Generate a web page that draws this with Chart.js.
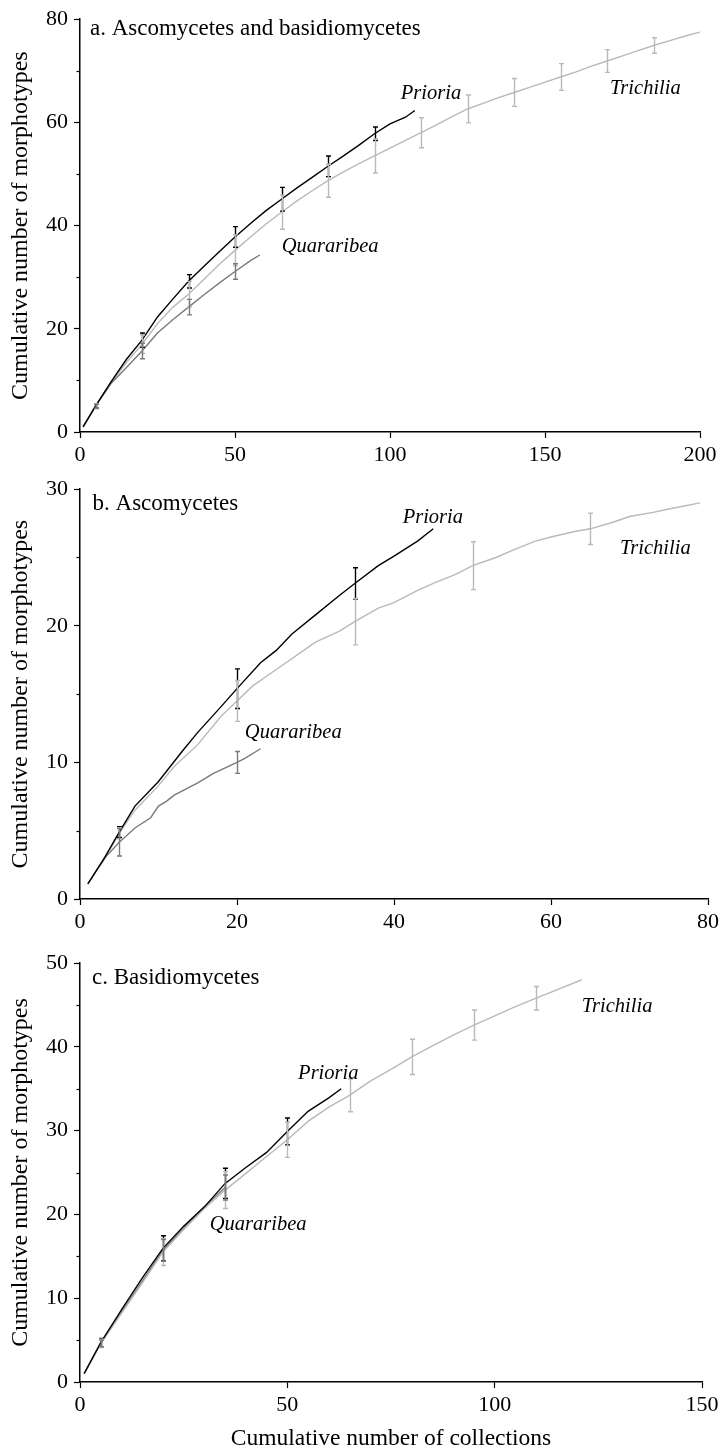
<!DOCTYPE html>
<html><head><meta charset="utf-8">
<script src="https://cdn.jsdelivr.net/npm/chart.js@4.4.0/dist/chart.umd.min.js"></script>
<style>
html,body{margin:0;padding:0;background:#fff;}
#wrap{position:relative;width:723px;height:1451px;overflow:hidden;}
.pane{position:absolute;left:0;}
</style></head><body>
<div id="wrap">
<div class="pane" style="top:0"><canvas id="ca" width="723" height="470"></canvas></div>
<div class="pane" style="top:470px"><canvas id="cb" width="723" height="470"></canvas></div>
<div class="pane" style="top:940px"><canvas id="cc" width="723" height="511"></canvas></div>
</div>
<script>
// ---------- DATA ----------
// Panel a: Ascomycetes and basidiomycetes
const aPrioriaX = [1,5,10,15,20,25,30,35,40,45,50,55,60,65,70,75,80,85,90,95,100,105,108];
const aPrioriaY = [1,5,9.7,14.1,17.8,22.3,25.8,29.2,32.1,35.0,37.8,40.4,42.9,45.1,47.3,49.4,51.5,53.5,55.6,57.8,59.7,61.0,62.3];
const aPrioriaErrX = [5,20,35,50,65,80,95];
const aPrioriaErrSD = [0.4,1.4,1.3,2.0,2.3,2.0,1.3];

const aTrichiliaX = [1,5,10,15,20,25,30,35,40,45,50,55,60,65,70,75,80,85,90,95,100,105,110,115,120,125,130,135,140,145,150,155,160,165,170,175,180,185,190,195,200];
const aTrichiliaY = [1,5,9.5,13.5,17.0,21.0,24.2,26.7,29.6,32.5,35.2,37.8,40.3,42.6,44.8,46.8,48.7,50.4,52.0,53.5,55.0,56.5,58.0,59.5,61.1,62.6,63.7,64.8,65.8,66.8,67.8,68.8,69.8,70.9,71.9,72.9,73.9,74.9,75.8,76.7,77.5];
const aTrichiliaErrX = [5,20,35,50,65,80,95,110,125,140,155,170,185];
const aTrichiliaErrSD = [0.5,1.8,2.5,3.0,3.3,3.2,3.3,2.9,2.7,2.7,2.6,2.2,1.5];

const aQuararibeaX = [1,5,10,15,20,25,30,35,40,45,50,55,58];
const aQuararibeaY = [1,5,9.4,12.5,15.7,19.2,21.8,24.2,26.6,28.9,31.1,33.2,34.3];
const aQuararibeaErrX = [5,20,35,50];
const aQuararibeaErrSD = [0.4,1.5,1.5,1.5];

// Panel b: Ascomycetes
const bPrioriaX = [1,2,3,5,7,10,13,15,18,20,23,25,27,30,33,35,38,40,43,45];
const bPrioriaY = [1.1,2.0,2.9,4.9,6.8,8.6,10.8,12.2,14.1,15.4,17.3,18.2,19.4,20.8,22.2,23.1,24.4,25.1,26.2,27.1];
const bPrioriaErrX = [5,20,35];
const bPrioriaErrSD = [0.4,1.45,1.15];

const bTrichiliaX = [1,2,3,5,7,10,12,15,18,20,22,25,28,30,33,35,38,40,43,45,48,50,53,55,58,60,63,65,68,70,73,75,79];
const bTrichiliaY = [1.1,2.0,2.8,4.8,6.5,8.3,9.7,11.3,13.4,14.5,15.6,16.8,18.0,18.8,19.6,20.3,21.3,21.7,22.6,23.1,23.8,24.4,25.0,25.5,26.2,26.5,26.9,27.1,27.6,28.0,28.3,28.55,29.0];
const bTrichiliaErrX = [5,20,35,50,65];
const bTrichiliaErrSD = [0.4,1.5,1.7,1.75,1.15];

const bQuararibeaX = [1,3,5,7,9,10,11,12,15,17,20,21,23];
const bQuararibeaY = [1.1,2.9,4.15,5.2,5.95,6.8,7.15,7.6,8.5,9.2,10.0,10.3,11.0];
const bQuararibeaErrX = [5,20];
const bQuararibeaErrSD = [1.0,0.8];

// Panel c: Basidiomycetes
const cPrioriaX = [1,5,10,15,20,25,30,35,40,45,50,55,60,63];
const cPrioriaY = [1.0,4.7,8.6,12.4,15.95,18.6,20.9,23.7,25.6,27.4,29.9,32.3,33.9,35.0];
const cPrioriaErrX = [5,20,35,50];
const cPrioriaErrSD = [0.5,1.5,1.8,1.6];

const cTrichiliaX = [1,5,10,15,20,25,30,35,40,45,50,55,60,65,70,75,80,85,90,95,100,105,110,115,121];
const cTrichiliaY = [1.0,4.6,8.2,11.8,15.5,18.2,20.7,22.9,24.9,26.9,28.9,31.1,32.8,34.2,35.9,37.3,38.8,40.1,41.4,42.6,43.7,44.8,45.8,46.8,48.0];
const cTrichiliaErrX = [5,20,35,50,65,80,95,110];
const cTrichiliaErrSD = [0.5,1.6,2.2,2.1,1.95,2.1,1.8,1.4];

const cQuararibeaX = [1,5,10,15,20,25,30,35];
const cQuararibeaY = [1.0,4.6,8.3,12.0,15.7,18.4,20.9,23.2];
const cQuararibeaErrX = [5,20,35];
const cQuararibeaErrSD = [0.4,1.3,1.5];

const xTicksA = [0,50,100,150,200];
const yTicksA = [0,20,40,60,80];
const xTicksB = [0,20,40,60,80];
const yTicksB = [0,10,20,30];
const xTicksC = [0,50,100,150];
const yTicksC = [0,10,20,30,40,50];

const panelTitles = ['a. Ascomycetes and basidiomycetes','b. Ascomycetes','c. Basidiomycetes'];
const speciesNames = ['Prioria','Trichilia','Quararibea'];
const yTitle = 'Cumulative number of morphotypes';
const xTitle = 'Cumulative number of collections';

// ---------- STYLE ----------
const FONT = '"Liberation Serif", "Times New Roman", serif';
const COLORS = {Prioria:'#000000', Trichilia:'#b9b9b9', Quararibea:'#7a7a7a'};

const annotPlugin = {
  id: 'annot',
  afterDatasetsDraw(chart, args, opts) {
    const ctx = chart.ctx, xs = chart.scales.x, ys = chart.scales.y;
    ctx.save();
    // minor y ticks
    ctx.strokeStyle = '#000'; ctx.lineWidth = 1.2;
    (opts.minorY || []).forEach(v => {
      const py = Math.round(ys.getPixelForValue(v)) + 0.5;
      ctx.beginPath(); ctx.moveTo(xs.left - 3.5, py); ctx.lineTo(xs.left, py); ctx.stroke();
    });
    // error bars
    (opts.errors || []).forEach(e => {
      ctx.strokeStyle = e.color; ctx.lineWidth = 1.4;
      e.x.forEach((xv, i) => {
        const k = e.sx.indexOf(xv);
        const m = e.sy[k];
        const px = Math.round(xs.getPixelForValue(xv)) + 0.5;
        const y1 = ys.getPixelForValue(m + e.sd[i]);
        const y2 = ys.getPixelForValue(m - e.sd[i]);
        ctx.beginPath();
        ctx.moveTo(px, y1); ctx.lineTo(px, y2);
        ctx.moveTo(px - 2.5, y1); ctx.lineTo(px + 2.5, y1);
        ctx.moveTo(px - 2.5, y2); ctx.lineTo(px + 2.5, y2);
        ctx.stroke();
      });
    });
    // text labels
    ctx.fillStyle = '#000'; ctx.textBaseline = 'middle'; ctx.textAlign = 'left';
    (opts.labels || []).forEach(l => {
      ctx.font = (l.italic ? 'italic ' : '') + l.size + 'px ' + FONT;
      ctx.fillText(l.text, xs.getPixelForValue(l.x), ys.getPixelForValue(l.y));
    });
    ctx.restore();
  }
};

function makePanel(id, p) {
  const ds = p.series.map(s => ({
    label: s.name,
    data: s.x.map((xv, i) => ({x: xv, y: s.y[i]})),
    borderColor: COLORS[s.name],
    borderWidth: 1.4,
    pointRadius: 0,
    tension: 0,
    fill: false,
    order: s.order
  }));
  const errors = p.series.slice().sort((a,b)=>a.errOrder-b.errOrder).map(s => ({
    color: COLORS[s.name], x: s.ex, sd: s.esd, sx: s.x, sy: s.y
  }));
  return new Chart(document.getElementById(id), {
    type: 'line',
    data: {datasets: ds},
    plugins: [annotPlugin],
    options: {
      responsive: false,
      animation: false,
      devicePixelRatio: 1,
      layout: {autoPadding: false, padding: {left: 0, right: p.padRight, top: p.padTop, bottom: 0}},
      plugins: {
        legend: {display: false},
        tooltip: {enabled: false},
        annot: {minorY: p.minorY, errors: errors, labels: p.labels}
      },
      scales: {
        x: {
          type: 'linear', min: p.xTicks[0], max: p.xTicks[p.xTicks.length-1],
          afterBuildTicks: sc => { sc.ticks = p.xTicks.map(v => ({value: v})); },
          afterFit: sc => { sc.height = p.xHeight; },
          grid: {drawOnChartArea: false, drawTicks: true, tickLength: 6, tickColor: '#000', tickWidth: 1.2},
          border: {display: true, color: '#000', width: 1.5},
          ticks: {color: '#000', font: {family: FONT, size: 22}, padding: 4, maxRotation: 0, autoSkip: false},
          title: {display: !!p.xTitle, text: p.xTitle || '', color: '#000', font: {family: FONT, size: 23.5}, padding: {top: 0, bottom: -2}}
        },
        y: {
          type: 'linear', min: p.yTicks[0], max: p.yTicks[p.yTicks.length-1],
          afterBuildTicks: sc => { sc.ticks = p.yTicks.map(v => ({value: v})); },
          afterFit: sc => { sc.width = 80; },
          grid: {drawOnChartArea: false, drawTicks: true, tickLength: 6, tickColor: '#000', tickWidth: 1.2},
          border: {display: true, color: '#000', width: 1.5},
          ticks: {color: '#000', font: {family: FONT, size: 22}, padding: 6, autoSkip: false},
          title: {display: true, text: yTitle, color: '#000', font: {family: FONT, size: 24}, padding: {top: 6, bottom: 0}}
        }
      }
    }
  });
}

function mk(name, x, y, ex, esd, order, errOrder) { return {name, x, y, ex, esd, order, errOrder}; }

makePanel('ca', {
  xTicks: xTicksA, yTicks: yTicksA, minorY: [10,30,50,70],
  padRight: 23, padTop: 15, xHeight: 38,
  series: [
    mk('Prioria', aPrioriaX, aPrioriaY, aPrioriaErrX, aPrioriaErrSD, 0, 0),
    mk('Quararibea', aQuararibeaX, aQuararibeaY, aQuararibeaErrX, aQuararibeaErrSD, 1, 2),
    mk('Trichilia', aTrichiliaX, aTrichiliaY, aTrichiliaErrX, aTrichiliaErrSD, 2, 1)
  ],
  labels: [
    {text: panelTitles[0], x: 3.2, y: 78.2, size: 23},
    {text: speciesNames[0], x: 103.5, y: 65.5, size: 20.5, italic: true},
    {text: speciesNames[1], x: 171, y: 66.6, size: 20.5, italic: true},
    {text: speciesNames[2], x: 65.1, y: 35.9, size: 20.5, italic: true}
  ]
});

makePanel('cb', {
  xTicks: xTicksB, yTicks: yTicksB, minorY: [5,15,25],
  padRight: 15, padTop: 15, xHeight: 41,
  series: [
    mk('Prioria', bPrioriaX, bPrioriaY, bPrioriaErrX, bPrioriaErrSD, 0, 0),
    mk('Quararibea', bQuararibeaX, bQuararibeaY, bQuararibeaErrX, bQuararibeaErrSD, 1, 2),
    mk('Trichilia', bTrichiliaX, bTrichiliaY, bTrichiliaErrX, bTrichiliaErrSD, 2, 1)
  ],
  labels: [
    {text: panelTitles[1], x: 1.6, y: 28.95, size: 23},
    {text: speciesNames[0], x: 41.1, y: 27.9, size: 20.5, italic: true},
    {text: speciesNames[1], x: 68.8, y: 25.67, size: 20.5, italic: true},
    {text: speciesNames[2], x: 21.0, y: 12.15, size: 20.5, italic: true}
  ]
});

makePanel('cc', {
  xTicks: xTicksC, yTicks: yTicksC, minorY: [5,15,25,35,45],
  padRight: 21, padTop: 23, xHeight: 69, xTitle: xTitle,
  series: [
    mk('Prioria', cPrioriaX, cPrioriaY, cPrioriaErrX, cPrioriaErrSD, 0, 0),
    mk('Quararibea', cQuararibeaX, cQuararibeaY, cQuararibeaErrX, cQuararibeaErrSD, 2, 2),
    mk('Trichilia', cTrichiliaX, cTrichiliaY, cTrichiliaErrX, cTrichiliaErrSD, 1, 1)
  ],
  labels: [
    {text: panelTitles[2], x: 2.9, y: 48.2, size: 23},
    {text: speciesNames[0], x: 52.6, y: 36.86, size: 20.5, italic: true},
    {text: speciesNames[1], x: 121.0, y: 44.8, size: 20.5, italic: true},
    {text: speciesNames[2], x: 31.3, y: 18.76, size: 20.5, italic: true}
  ]
});
</script>
</body></html>
